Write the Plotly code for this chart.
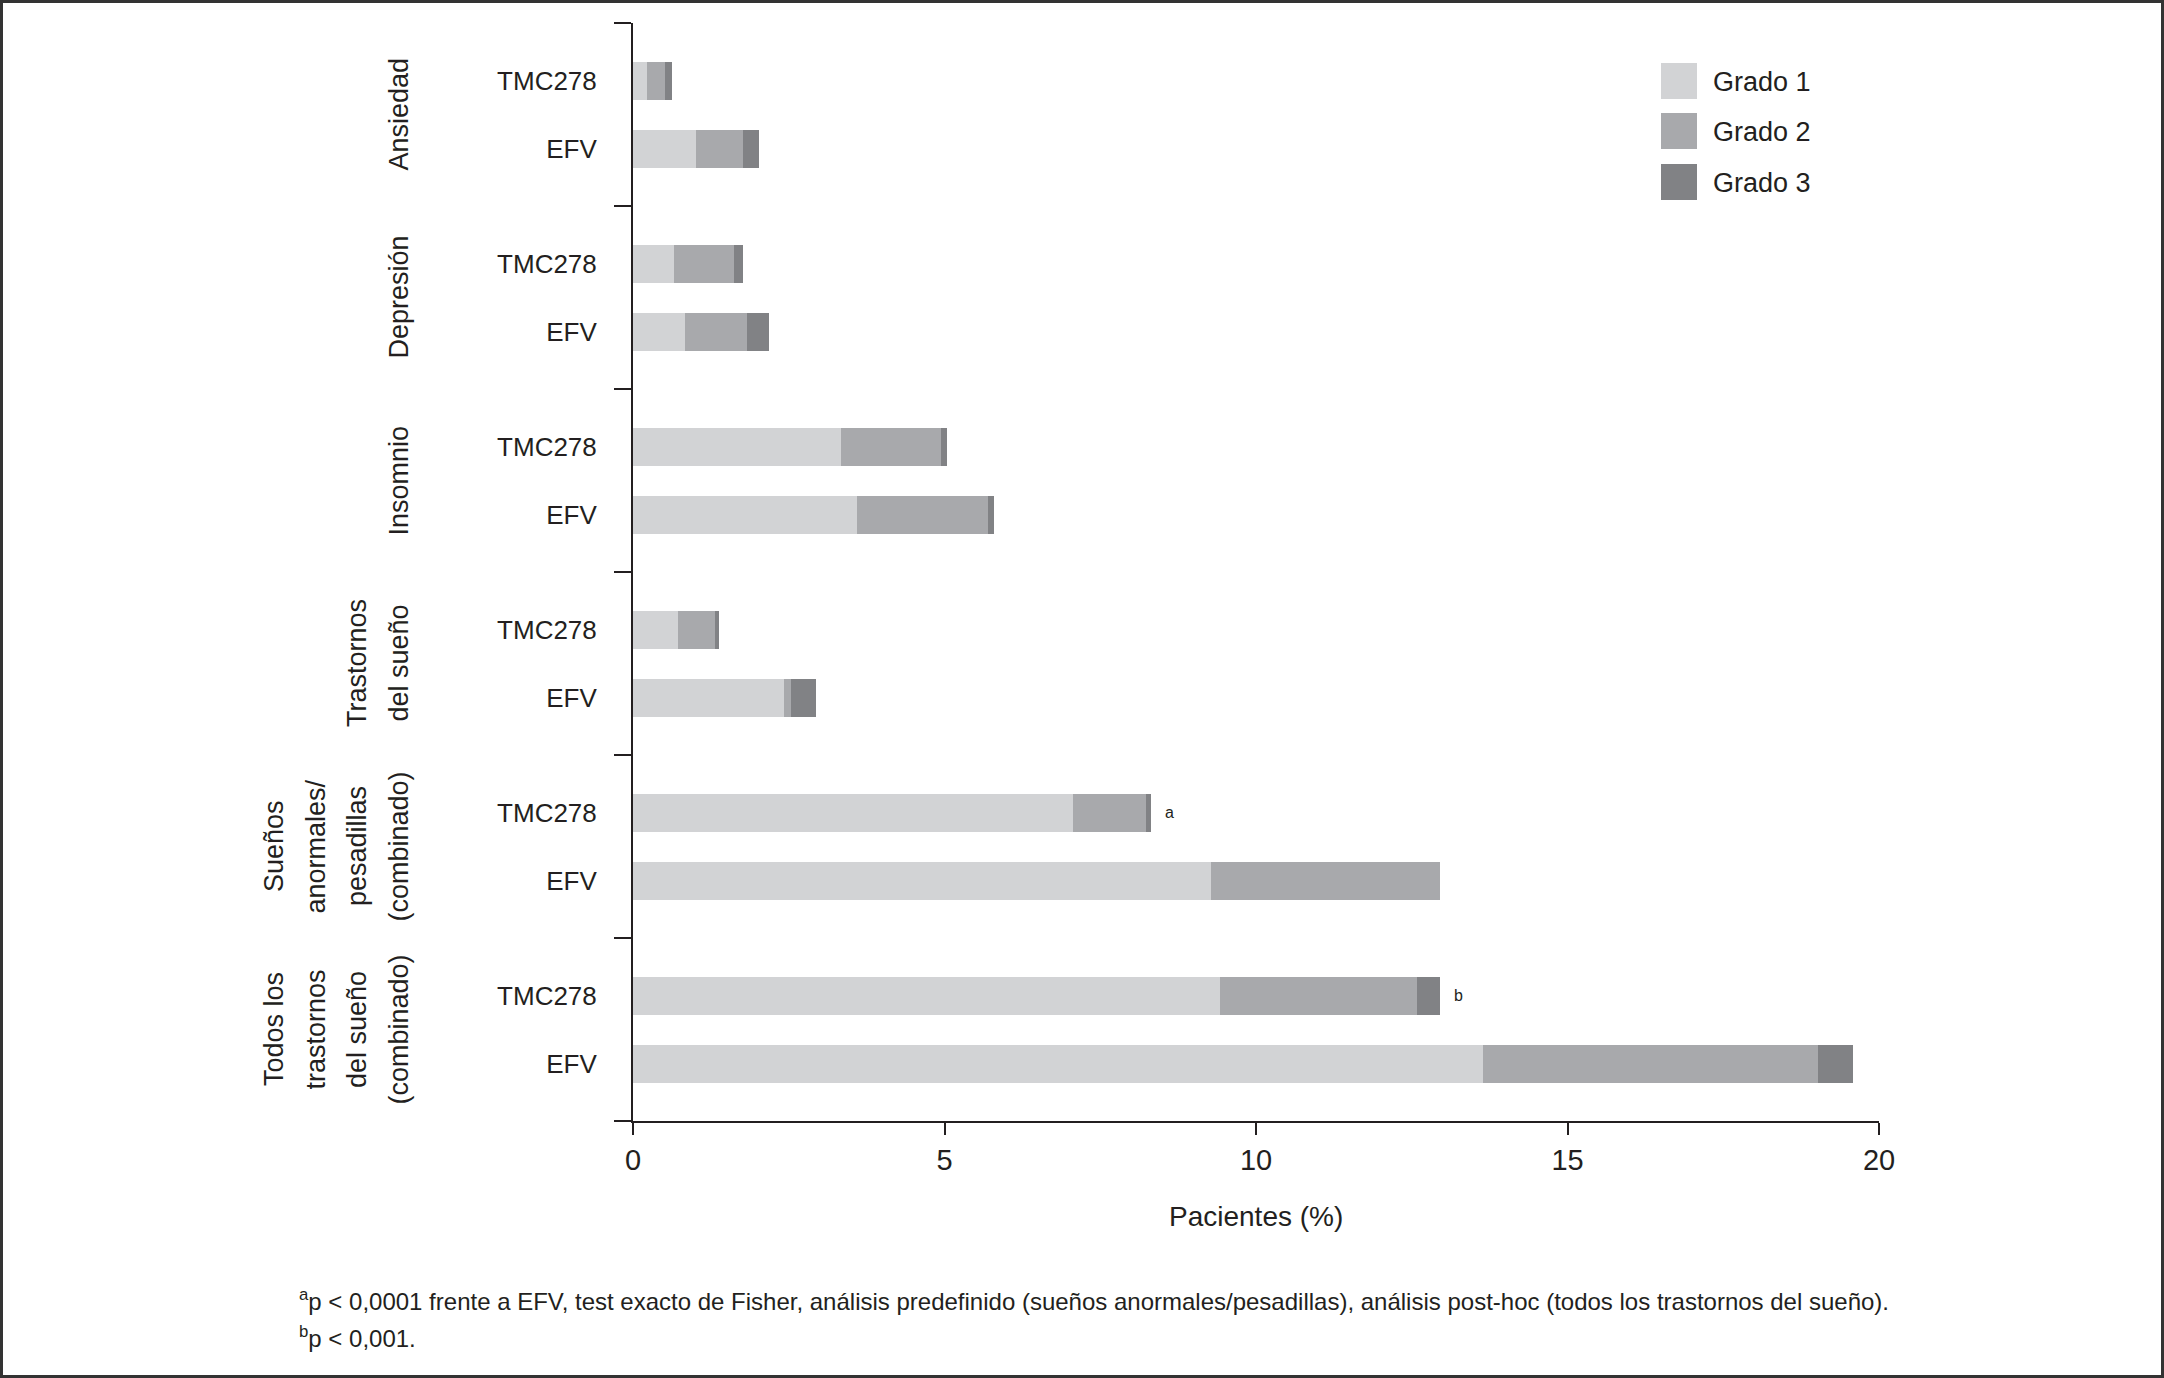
import plotly.graph_objects as go

# ---------------- data ----------------
group_lines = [
    ["Ansiedad"],
    ["Depresión"],
    ["Insomnio"],
    ["Trastornos", "del sueño"],
    ["Sueños", "anormales/", "pesadillas", "(combinado)"],
    ["Todos los", "trastornos", "del sueño", "(combinado)"],
]
drugs = ["TMC278", "EFV"]
grades = ["Grado 1", "Grado 2", "Grado 3"]

tmc_g1 = [0.22, 0.66, 3.34, 0.72, 7.07, 9.43]
tmc_g2 = [0.30, 0.96, 1.61, 0.60, 1.16, 3.16]
tmc_g3 = [0.11, 0.15, 0.09, 0.06, 0.08, 0.36]
efv_g1 = [1.01, 0.84, 3.59, 2.43, 9.27, 13.64]
efv_g2 = [0.76, 0.99, 2.11, 0.11, 3.68, 5.38]
efv_g3 = [0.25, 0.36, 0.10, 0.40, 0.00, 0.57]

sig_marks = ["", "", "", "", "a", "b"]   # significance markers on TMC278 bars
x_ticks = [0, 5, 10, 15, 20]

footnote_1 = ("<sup>a</sup>p &lt; 0,0001 frente a EFV, test exacto de Fisher, análisis predefinido "
              "(sueños anormales/pesadillas), análisis post-hoc (todos los trastornos del sueño).")
footnote_2 = "<sup>b</sup>p &lt; 0,001."

# ---------------- style ----------------
W, H = 2164, 1378
L, R, T, B = 633, 285, 23, 257
PW, PH = W - L - R, H - T - B
colors = ["#d2d3d5", "#a8a9ac", "#818285"]
ink = "#231f20"
FONT = "Liberation Sans, Arial, sans-serif"

off_tmc, off_efv, bar_w = 0.316, 0.69, 0.208


def px_x(px):
    return (px - L) / PW


def px_y(py):
    return (H - B - py) / PH


n = len(group_lines)
y_tmc = [k + off_tmc for k in range(n)]
y_efv = [k + off_efv for k in range(n)]

fig = go.Figure()
for gi, (tv, ev) in enumerate([(tmc_g1, efv_g1), (tmc_g2, efv_g2), (tmc_g3, efv_g3)]):
    fig.add_trace(go.Bar(
        name=grades[gi], orientation="h",
        x=list(tv) + list(ev), y=y_tmc + y_efv,
        width=bar_w, marker=dict(color=colors[gi], line=dict(width=0)),
        showlegend=False,
    ))

tmc_tot = [a + b + c for a, b, c in zip(tmc_g1, tmc_g2, tmc_g3)]

annotations = []
# significance markers
for k, m in enumerate(sig_marks):
    if m:
        annotations.append(dict(x=tmc_tot[k] + 0.3, y=y_tmc[k], xref="x", yref="y", text=m,
                                showarrow=False, xanchor="center", yanchor="middle",
                                font=dict(family=FONT, size=16, color=ink)))

# group labels (rotated)
line_gap = 41.5
last_line_px = 398
for k, lines in enumerate(group_lines):
    nl = len(lines)
    for j, txt in enumerate(lines):
        cx = last_line_px - (nl - 1 - j) * line_gap
        annotations.append(dict(x=px_x(cx), y=k + 0.5, xref="paper", yref="y", text=txt,
                                textangle=-90, showarrow=False, xanchor="center", yanchor="middle",
                                font=dict(family=FONT, size=27, color=ink)))

# axis title
annotations.append(dict(x=0.5, y=px_y(1216), xref="paper", yref="paper", text="Pacientes (%)",
                        showarrow=False, xanchor="center", yanchor="middle",
                        font=dict(family=FONT, size=28, color=ink)))

# footnotes
annotations.append(dict(x=px_x(297), y=px_y(1300), xref="paper", yref="paper", text=footnote_1,
                        showarrow=False, xanchor="left", yanchor="middle",
                        font=dict(family=FONT, size=24, color=ink)))
annotations.append(dict(x=px_x(297), y=px_y(1337), xref="paper", yref="paper", text=footnote_2,
                        showarrow=False, xanchor="left", yanchor="middle",
                        font=dict(family=FONT, size=24, color=ink)))

shapes = []
# custom legend
leg_y = [81, 131, 182]
for gi, g in enumerate(grades):
    shapes.append(dict(type="rect", xref="paper", yref="paper",
                       x0=px_x(1661), x1=px_x(1697), y0=px_y(leg_y[gi] - 18), y1=px_y(leg_y[gi] + 18),
                       fillcolor=colors[gi], line=dict(width=0)))
    annotations.append(dict(x=px_x(1711), y=px_y(leg_y[gi] + 1), xref="paper", yref="paper", text=g,
                            showarrow=False, xanchor="left", yanchor="middle",
                            font=dict(family=FONT, size=27, color=ink)))

# figure frame
shapes.append(dict(type="rect", xref="paper", yref="paper",
                   x0=px_x(1.5), x1=px_x(W - 1.5), y0=px_y(H - 1.5), y1=px_y(1.5),
                   line=dict(color="#333333", width=3), fillcolor="rgba(0,0,0,0)"))

fig.update_layout(
    width=W, height=H,
    margin=dict(l=L, r=R, t=T, b=B, pad=0),
    paper_bgcolor="white", plot_bgcolor="white",
    barmode="stack", bargap=0,
    showlegend=False,
    annotations=annotations, shapes=shapes,
    xaxis=dict(range=[0, 20], tickmode="array", tickvals=x_ticks,
               ticks="outside", ticklen=12, tickwidth=2, tickcolor=ink,
               showline=True, linecolor=ink, linewidth=2, showgrid=False, zeroline=False,
               tickfont=dict(family=FONT, size=29, color=ink), ticklabelstandoff=0),
    yaxis=dict(range=[n, 0], tickmode="array",
               tickvals=y_tmc + y_efv, ticktext=[drugs[0]] * n + [drugs[1]] * n,
               ticks="", showline=True, linecolor=ink, linewidth=2, showgrid=False, zeroline=False,
               tickfont=dict(family=FONT, size=26, color=ink), ticklabelstandoff=29,
               minor=dict(tickmode="array", tickvals=list(range(n + 1)), ticks="outside",
                          ticklen=17, tickwidth=2, tickcolor=ink, showgrid=False)),
)

fig.write_html("out.html",
               config={"displayModeBar": False},
               post_script="document.body.style.margin='0';document.body.style.overflow='hidden';")
